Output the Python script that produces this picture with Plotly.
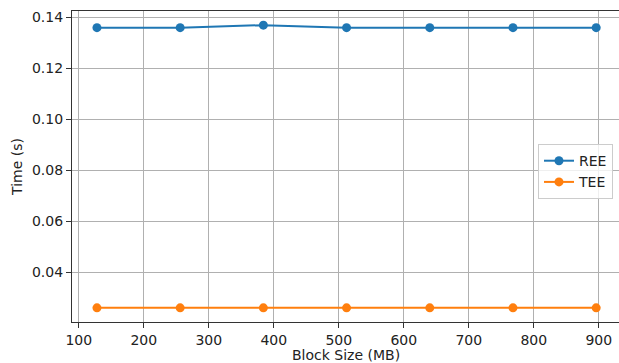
import plotly.graph_objects as go

# Block sizes (MB) and measured times (s)
block_sizes = [128, 256, 384, 512, 640, 768, 896]
ree_time = [0.136, 0.136, 0.137, 0.136, 0.136, 0.136, 0.136]
tee_time = [0.026, 0.026, 0.026, 0.026, 0.026, 0.026, 0.026]

x_ticks = [100, 200, 300, 400, 500, 600, 700, 800, 900]
y_ticks = [0.04, 0.06, 0.08, 0.10, 0.12, 0.14]

BLUE = "#1f77b4"
ORANGE = "#ff7f0e"
FONT = "DejaVu Sans"
TEXT = "#222222"

fig = go.Figure()
fig.add_trace(go.Scatter(
    x=block_sizes, y=ree_time, name="REE", mode="lines+markers",
    line=dict(color=BLUE, width=2), marker=dict(size=9, color=BLUE),
))
fig.add_trace(go.Scatter(
    x=block_sizes, y=tee_time, name="TEE", mode="lines+markers",
    line=dict(color=ORANGE, width=2), marker=dict(size=9, color=ORANGE),
))

axis_common = dict(
    showgrid=True, gridcolor="#b0b0b0", gridwidth=1,
    showline=True, linecolor="#333333", linewidth=1.2,
    ticks="outside", ticklen=5, tickwidth=1, tickcolor="#333333",
    tickfont=dict(family=FONT, size=14, color=TEXT),
    zeroline=False, automargin=False,
)

fig.update_xaxes(
    **axis_common,
    range=[89.6, 931.1], tickvals=x_ticks, mirror=True,
)
fig.update_yaxes(
    **axis_common,
    range=[0.02045, 0.14255], tickvals=y_ticks, tickformat=".2f",
    title=dict(text="Time (s)", font=dict(family=FONT, size=14, color=TEXT), standoff=6),
)

# x-axis title placed just below the tick labels, centred on the plot area
fig.add_annotation(
    text="Block Size (MB)", xref="paper", yref="paper",
    x=0.5, y=0, yshift=-23, xanchor="center", yanchor="top",
    showarrow=False, font=dict(family=FONT, size=14, color=TEXT),
)

fig.update_layout(
    width=619, height=363,
    margin=dict(l=72, r=0, t=11, b=41),
    plot_bgcolor="white", paper_bgcolor="white",
    font=dict(family=FONT, size=14, color=TEXT),
    legend=dict(
        x=0.989, y=0.572, xanchor="right", yanchor="top",
        bgcolor="rgba(255,255,255,0.8)", bordercolor="#cccccc", borderwidth=1,
        font=dict(family=FONT, size=14, color=TEXT),
        itemwidth=30, tracegroupgap=0,
    ),
)

fig.write_html("out.html")
